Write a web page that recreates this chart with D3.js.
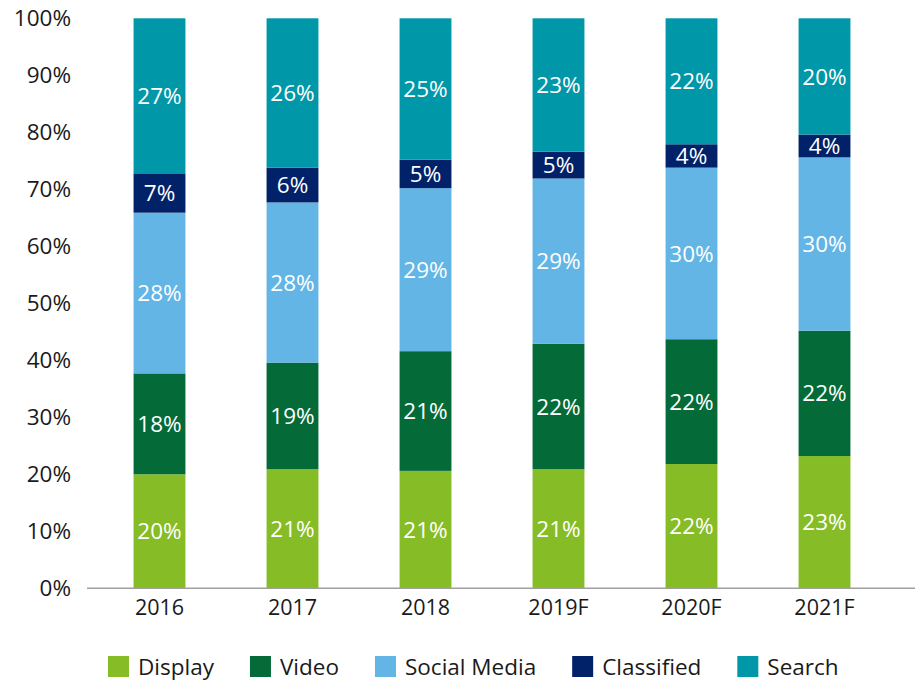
<!DOCTYPE html>
<html>
<head>
<meta charset="utf-8">
<script src="https://cdn.jsdelivr.net/npm/d3@7"></script>
<style>
  body { margin: 0; background: #fff; }
  svg text { font-family: "Open Sans", sans-serif; }
</style>
</head>
<body>
<svg width="915" height="685"></svg>
<script>
// data (percent of total)
var years = ["2016", "2017", "2018", "2019F", "2020F", "2021F"];
var seriesNames = ["Display", "Video", "Social Media", "Classified", "Search"];
var display    = [20.0, 20.9, 20.6, 20.9, 21.8, 23.2];
var video      = [17.7, 18.7, 21.0, 22.0, 21.9, 22.0];
var social     = [28.2, 28.1, 28.6, 29.0, 30.1, 30.4];
var classified = [6.9, 6.1, 5.0, 4.7, 4.1, 4.0];
var search     = [27.2, 26.2, 24.8, 23.4, 22.1, 20.4];
var yTicks = [0, 10, 20, 30, 40, 50, 60, 70, 80, 90, 100];

var colors = ["#86BC25", "#046A38", "#62B5E5", "#012169", "#0097A9"];

var svg = d3.select("svg"),
    top0 = 18.3, bottom0 = 588.3;

// build table for the stack
var table = years.map(function(y, i) {
  return { year: y, Display: display[i], Video: video[i], "Social Media": social[i],
           Classified: classified[i], Search: search[i] };
});

var x = d3.scaleBand()
    .domain(years)
    .range([93, 891])
    .paddingInner(0.61)
    .paddingOuter(0.305);

var y = d3.scaleLinear()
    .domain([0, 100])
    .range([bottom0, top0]);

var color = d3.scaleOrdinal().domain(seriesNames).range(colors);

var stack = d3.stack().keys(seriesNames);
var layers = stack(table);

var g = svg.append("g");

var layer = g.selectAll("g.layer")
  .data(layers)
  .enter().append("g")
    .attr("class", "layer")
    .attr("fill", function(d) { return color(d.key); });

layer.selectAll("rect")
  .data(function(d) { return d; })
  .enter().append("rect")
    .attr("x", function(d) { return x(d.data.year); })
    .attr("width", x.bandwidth())
    .attr("y", function(d) { return y(d[1]); })
    .attr("height", function(d) { return y(d[0]) - y(d[1]); });

layer.selectAll("text")
  .data(function(d) { return d; })
  .enter().append("text")
    .attr("x", function(d) { return x(d.data.year) + x.bandwidth() / 2; })
    .attr("y", function(d) { return (y(d[0]) + y(d[1])) / 2; })
    .attr("dy", "0.36em")
    .attr("text-anchor", "middle")
    .style("font-size", "22.5px")
    .attr("fill", "#fff")
    .text(function(d) { return Math.round(d[1] - d[0]) + "%"; });

// y axis: labels only
var yAxis = svg.append("g")
    .attr("transform", "translate(71,0)")
    .call(d3.axisLeft(y).tickValues(yTicks).tickSize(0).tickPadding(0)
          .tickFormat(function(d) { return d + "%"; }));
yAxis.select(".domain").remove();
yAxis.selectAll("text")
    .style("font-family", "'Open Sans', sans-serif")
    .style("font-size", "22.5px")
    .attr("fill", "#1a1a1a");

// x axis
var xAxis = svg.append("g")
    .attr("transform", "translate(0," + bottom0 + ")")
    .call(d3.axisBottom(x).tickSize(0).tickPadding(11));
xAxis.select(".domain").remove();
xAxis.selectAll("text")
    .style("font-family", "'Open Sans', sans-serif")
    .style("font-size", "21.5px")
    .attr("fill", "#1a1a1a");

svg.append("line")
    .attr("x1", 87).attr("x2", 915)
    .attr("y1", bottom0).attr("y2", bottom0)
    .attr("stroke", "#a0a0a0")
    .attr("stroke-width", 1.5);

// legend
var legend = svg.append("g").attr("transform", "translate(108,656)");
var lx = 0;
seriesNames.forEach(function(name) {
  var item = legend.append("g").attr("transform", "translate(" + lx + ",0)");
  item.append("rect")
      .attr("width", 21).attr("height", 21)
      .attr("fill", color(name));
  var t = item.append("text")
      .attr("x", 30).attr("y", 11)
      .attr("dy", "0.35em")
      .style("font-size", "22.5px")
      .attr("fill", "#1a1a1a")
      .text(name);
  lx += 30 + t.node().getComputedTextLength() + 36;
});
</script>
</body>
</html>
